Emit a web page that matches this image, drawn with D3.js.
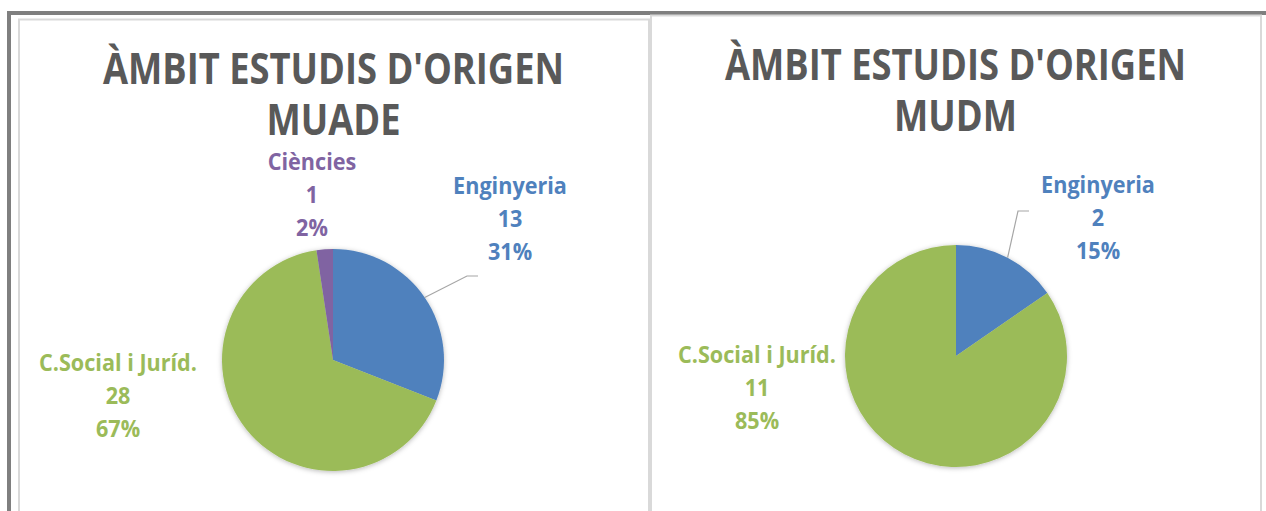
<!DOCTYPE html>
<html>
<head>
<meta charset="utf-8">
<script src="https://cdn.jsdelivr.net/npm/d3@7"></script>
<style>
  body { margin: 0; background: #fff; }
  svg { display: block; }
  text { font-family: "Open Sans", "Noto Sans", sans-serif; font-weight: bold; }
</style>
</head>
<body>
<div id="chart"></div>
<script>
// data
var categories = ["Enginyeria", "C.Social i Juríd.", "Ciències"];
var colors = ["#4f81bd", "#9bbb59", "#8064a2"];
var muadeValues = [13, 28, 1];
var mudmValues = [2, 11, 0];
var muadeTitle = ["ÀMBIT ESTUDIS D'ORIGEN", "MUADE"];
var mudmTitle = ["ÀMBIT ESTUDIS D'ORIGEN", "MUDM"];

var W = 1266, H = 511;

var svg = d3.select("#chart").append("svg")
  .attr("width", W).attr("height", H);

var defs = svg.append("defs");
var f = defs.append("filter").attr("id", "shadow")
  .attr("x", "-20%").attr("y", "-20%").attr("width", "140%").attr("height", "140%");
f.append("feDropShadow").attr("dx", 0).attr("dy", 1).attr("stdDeviation", 2.5)
  .attr("flood-color", "#000").attr("flood-opacity", 0.28);

// outer frame
svg.append("line").attr("x1", 7).attr("x2", W).attr("y1", 13).attr("y2", 13)
  .attr("stroke", "#7f7f7f").attr("stroke-width", 4);
svg.append("line").attr("x1", 9).attr("x2", 9).attr("y1", 11).attr("y2", H)
  .attr("stroke", "#7f7f7f").attr("stroke-width", 4);

var panels = [
  { values: muadeValues, title: muadeTitle,
    box: [19, 19.5, 630, 600], cx: 333, cy: 360, r: 111, titleX: 333.5, titleY: 84,
    // label middle line offset from the pie centre, optional leader elbow/end
    labels: [
      { dx: 177, dy: -142, leader: [[134, -84], [145, -84]] },
      { dx: -215, dy: 35 },
      { dx: -21, dy: -166 }
    ] },
  { values: mudmValues, title: mudmTitle,
    box: [651, 15.5, 610, 600], cx: 956, cy: 356, r: 111, titleX: 955.5, titleY: 80,
    labels: [
      { dx: 142, dy: -139, leader: [[62, -145], [73, -145]] },
      { dx: -199, dy: 31 },
      null
    ] }
];

// multi-line text in one element, squeezed horizontally towards Calibri width
function block(parent, x, y, lines, size, lineH, col, k) {
  var t = parent.append("text")
    .attr("transform", "translate(" + x + "," + y + ") scale(" + k + ",1)")
    .attr("text-anchor", "middle")
    .attr("font-size", size)
    .attr("fill", col);
  t.selectAll("tspan").data(lines).enter().append("tspan")
    .attr("x", 0)
    .attr("dy", function(d, i) { return i ? lineH : 0; })
    .text(function(d) { return d; });
  return t;
}

panels.forEach(function(p) {
  var g = svg.append("g");
  g.append("rect")
    .attr("x", p.box[0]).attr("y", p.box[1])
    .attr("width", p.box[2]).attr("height", p.box[3])
    .attr("fill", "#fff").attr("stroke", "#d9d9d9").attr("stroke-width", 2);

  block(g, p.titleX, p.titleY, p.title, 43, 51, "#595959", 0.845);

  var total = d3.sum(p.values);
  var pie = d3.pie().sort(null).value(function(d) { return d; });
  var arcs = pie(p.values);
  var arc = d3.arc().innerRadius(0).outerRadius(p.r);

  var pg = g.append("g").attr("transform", "translate(" + p.cx + "," + p.cy + ")");
  pg.append("g").attr("filter", "url(#shadow)")
    .selectAll("path").data(arcs.filter(function(d) { return d.value > 0; }))
    .enter().append("path")
    .attr("d", arc)
    .attr("fill", function(d) { return colors[d.index]; });

  arcs.forEach(function(a, i) {
    var lab = p.labels[i];
    if (!lab || a.value === 0) return;
    if (lab.leader) {
      var mid = (a.startAngle + a.endAngle) / 2;
      var start = [Math.sin(mid) * p.r, -Math.cos(mid) * p.r];
      pg.append("path")
        .attr("d", d3.line()([start].concat(lab.leader)))
        .attr("fill", "none").attr("stroke", "#a6a6a6").attr("stroke-width", 1.2);
    }
    var lines = [categories[i], String(a.value), Math.round(a.value / total * 100) + "%"];
    // first baseline: middle line centre minus one line, plus ~0.36em
    block(pg, lab.dx, lab.dy - 33 + 8.6, lines, 24, 33, colors[i], 0.9);
  });
});
</script>
</body>
</html>
